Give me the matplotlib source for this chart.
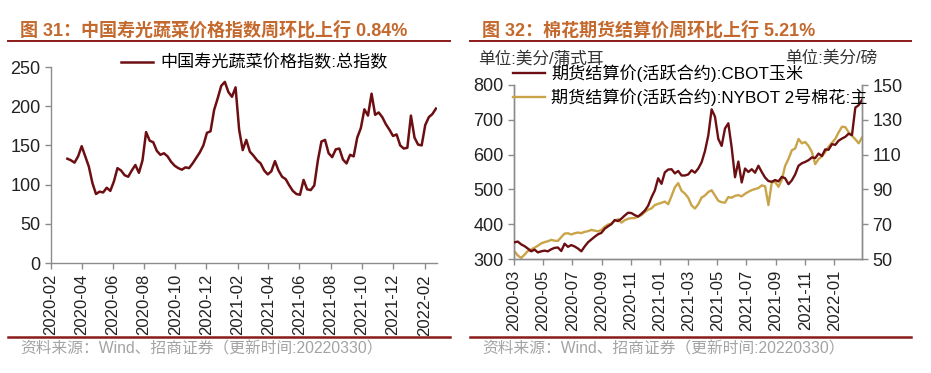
import matplotlib
matplotlib.use("Agg")
import matplotlib.pyplot as plt
from matplotlib.lines import Line2D
import matplotlib.dates as mdates
import pandas as pd

plt.rcParams['font.family'] = ['Liberation Sans', 'Noto Sans CJK SC']
plt.rcParams['axes.unicode_minus'] = False

# --- chart 31: Shouguang vegetable price index, weekly ---
veg_start = "2020-03-04"
veg_label = "中国寿光蔬菜价格指数:总指数"
veg_index = [133, 131, 128, 136, 149, 136, 123, 102, 88, 91,
             90, 96, 92, 104, 121, 118, 112, 110, 118, 125,
             115, 131, 167, 156, 154, 143, 138, 140, 136, 129,
             124, 121, 119, 122, 121, 127, 134, 141, 150, 166,
             168, 195, 210, 226, 231, 218, 212, 224, 170, 144,
             157, 142, 137, 131, 127, 118, 113, 117, 130, 118,
             110, 107, 99, 92, 88, 87, 106, 94, 93, 99,
             131, 155, 157, 140, 135, 145, 146, 132, 127, 138,
             136, 160, 172, 196, 188, 216, 189, 192, 186, 177,
             170, 162, 164, 150, 146, 147, 188, 160, 151, 150,
             176, 186, 190, 197]
veg_ticks = pd.date_range("2020-02-01", "2022-02-01", freq="2MS")

# --- chart 32: CBOT corn (cents/bushel) and NYBOT cotton (cents/lb), weekly ---
fut_start = "2020-03-02"
corn_label = "期货结算价(活跃合约):CBOT玉米"
cotton_label = "期货结算价(活跃合约):NYBOT 2号棉花:主"
corn = [348, 350, 342, 337, 330, 322, 327, 319, 322, 324,
        322, 328, 332, 333, 323, 344, 335, 340, 336, 330,
        322, 336, 348, 356, 364, 371, 375, 387, 394, 400,
        412, 409, 416, 425, 433, 432, 426, 422, 430, 439,
        453, 477, 497, 532, 516, 549, 557, 558, 546, 553,
        540, 540, 543, 555, 548, 560, 578, 610, 655, 730,
        709, 645, 625, 675, 690, 620, 535, 580, 520, 560,
        550, 558, 548, 568, 550, 534, 524, 522, 527, 523,
        536, 532, 515, 526, 543, 568, 575, 579, 584, 592,
        590, 603, 596, 615, 614, 630, 628, 640, 646, 651,
        660, 656, 735, 742, 757]
cotton = [54.4, 52.0, 50.6, 52.5, 54.6, 55.5, 56.5, 57.6, 59.0, 59.7,
          60.2, 61.0, 60.5, 60.4, 62.6, 64.6, 64.8, 64.1, 64.8, 65.2,
          64.9, 65.6, 66.0, 66.7, 66.3, 65.9, 66.7, 68.5, 69.8, 70.4,
          72.0, 72.8, 70.9, 72.3, 73.1, 73.5, 73.5, 74.4, 75.2, 77.0,
          78.3, 79.1, 81.0, 81.7, 82.3, 83.0, 81.5, 86.2, 91.2, 93.6,
          89.2, 87.6, 85.2, 80.8, 79.0, 81.5, 85.3, 86.5, 88.5, 89.5,
          86.5, 83.5, 82.6, 82.4, 85.6, 85.2, 86.3, 86.7, 86.0, 87.5,
          88.6, 89.6, 90.2, 90.8, 92.3, 91.8, 81.0, 94.0, 94.3, 91.5,
          95.5, 103.5, 107.5, 112.5, 113.5, 119.0, 116.5, 117.2, 115.0, 111.5,
          104.5, 107.5, 108.9, 111.5, 114.5, 116.8, 119.0, 122.8, 126.0, 125.8,
          122.8, 120.8, 118.8, 116.5, 119.8]
fut_ticks = pd.date_range("2020-03-01", "2022-01-01", freq="2MS")

veg_dates = pd.date_range(veg_start, periods=len(veg_index), freq="7D")
fut_dates = pd.date_range(fut_start, periods=len(corn), freq="7D")

RED = "#6d0f12"
GOLD = "#c9a449"
TITLE = "#c4692d"
RULE = "#8b1a1a"
SPINE = "#8c8c8c"
W, H = 931, 373


def fx(px):
    return px / W


def fy(py):
    return 1 - py / H


def style_axis(ax, visible):
    for side in ["left", "right", "top", "bottom"]:
        ax.spines[side].set_visible(side in visible)
        ax.spines[side].set_color(SPINE)
        ax.spines[side].set_linewidth(1.0)
    ax.tick_params(direction="out", length=4, width=1, color=SPINE,
                   labelsize=12.5, labelcolor="#222222")


fig = plt.figure(figsize=(W / 100, H / 100), dpi=100)

# ---------- left panel ----------
ax1 = fig.add_axes([fx(51), fy(263), fx(386), 196 / H])
line_veg, = ax1.plot(veg_dates, veg_index, color=RED, lw=1.8)
ax1.set_ylim(0, 250)
ax1.set_yticks(range(0, 251, 50))
ax1.set_xlim(pd.Timestamp("2020-02-01"), pd.Timestamp("2022-02-25"))
ax1.set_xticks(veg_ticks)
ax1.xaxis.set_major_formatter(mdates.DateFormatter("%Y-%m"))
style_axis(ax1, ["left", "bottom"])
ax1.tick_params(axis="x", labelrotation=90, pad=4, labelsize=12)
ax1.tick_params(axis="y", labelsize=13)

fig.legend([line_veg], [veg_label], loc="upper left",
           bbox_to_anchor=(fx(121), fy(54)), frameon=False, fontsize=12.3,
           handlelength=1.9, handletextpad=0.4, borderpad=0, borderaxespad=0)

# ---------- right panel ----------
ax2 = fig.add_axes([fx(514), fy(259), fx(348), 174 / H])
ax2r = ax2.twinx()
line_corn, = ax2.plot(fut_dates, corn, color=RED, lw=1.7, zorder=3)
line_cot, = ax2r.plot(fut_dates, cotton, color=GOLD, lw=1.7, zorder=2)
ax2.set_zorder(ax2r.get_zorder() + 1)
ax2.patch.set_visible(False)
ax2.set_ylim(300, 800)
ax2.set_yticks(range(300, 801, 100))
ax2r.set_ylim(50, 150)
ax2r.set_yticks(range(50, 151, 20))
ax2.set_xlim(pd.Timestamp("2020-03-01"), pd.Timestamp("2022-02-28"))
ax2.set_xticks(fut_ticks)
ax2.xaxis.set_major_formatter(mdates.DateFormatter("%Y-%m"))
style_axis(ax2, ["left", "bottom", "right"])
style_axis(ax2r, ["left", "bottom", "right"])
ax2.tick_params(axis="x", labelrotation=90, pad=4, labelsize=12)
ax2.tick_params(axis="y", labelsize=13)
ax2r.tick_params(axis="y", labelsize=13)

fig.legend([line_corn, line_cot], [corn_label, cotton_label], loc="upper left",
           bbox_to_anchor=(fx(513), fy(64)), frameon=False, fontsize=12.3,
           handlelength=1.9, handletextpad=0.35, labelspacing=0.4,
           borderpad=0, borderaxespad=0)

fig.text(fx(478), fy(59), "单位:美分/蒲式耳", fontsize=12, va="center", color="#333333")
fig.text(fx(877), fy(58), "单位:美分/磅", fontsize=12, va="center", ha="right", color="#333333")

# ---------- titles, rules, sources ----------
fig.text(fx(20), fy(30), "图 31：中国寿光蔬菜价格指数周环比上行 0.84%",
         fontsize=13, fontweight="bold", color=TITLE, va="center")
fig.text(fx(482), fy(30), "图 32：棉花期货结算价周环比上行 5.21%",
         fontsize=13, fontweight="bold", color=TITLE, va="center")

for x0, x1 in [(8, 450), (470, 911)]:
    fig.add_artist(Line2D([fx(x0), fx(x1)], [fy(41), fy(41)], color=RULE,
                          lw=1.4, transform=fig.transFigure))
    fig.add_artist(Line2D([fx(x0), fx(x1)], [fy(337), fy(337)], color=RULE,
                          lw=1.8, transform=fig.transFigure))

src = "资料来源：Wind、招商证券（更新时间:20220330）"
fig.text(fx(20), fy(349), src, fontsize=11.3, color="#a3a3a3", va="center")
fig.text(fx(482), fy(349), src, fontsize=11.3, color="#a3a3a3", va="center")

fig.savefig("out.png", dpi=100)
